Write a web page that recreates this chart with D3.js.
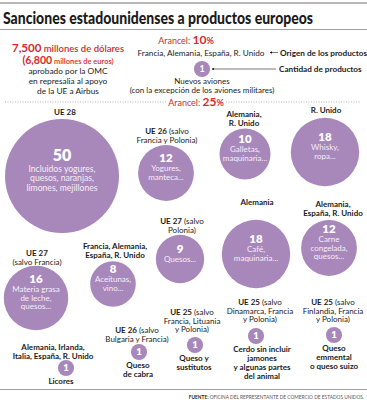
<!DOCTYPE html>
<html>
<head>
<meta charset="utf-8">
<script src="https://cdn.jsdelivr.net/npm/d3@7"></script>
<style>
  body { margin: 0; background: #fff; }
  text { font-family: Lato, "Open Sans", sans-serif; }
</style>
</head>
<body>
<div id="chart"></div>
<script>
"use strict";

// origin of the products (first "UE nn" part is bold, country lists are all bold)
var origins = [
  ["UE 28"],
  ["UE 26 (salvo", "Francia y Polonia)"],
  ["Alemania,", "R. Unido"],
  ["R. Unido"],
  ["UE 27", "(salvo Francia)"],
  ["Francia, Alemania,", "España, R. Unido"],
  ["UE 27 (salvo", "Polonia)"],
  ["Alemania"],
  ["Alemania,", "España, R. Unido"],
  ["Alemania, Irlanda,", "Italia, España, R. Unido"],
  ["UE 26 (salvo", "Bulgaria y Francia)"],
  ["UE 25 (salvo", "Francia, Lituania", "y Polonia)"],
  ["UE 25 (salvo", "Dinamarca, Francia", "y Polonia)"],
  ["UE 25 (salvo", "Finlandia, Francia", "y Polonia)"]
];

// number of products
var counts = [50, 12, 10, 18, 16, 8, 9, 18, 12, 1, 1, 1, 1, 1];

var products = [
  ["Incluidos yogures,", "quesos, naranjas,", "limones, mejillones"],
  ["Yogures,", "manteca..."],
  ["Galletas,", "maquinaria..."],
  ["Whisky,", "ropa..."],
  ["Materia grasa", "de leche,", "quesos..."],
  ["Aceitunas,", "vino..."],
  ["Quesos..."],
  ["Café,", "maquinaria..."],
  ["Carne", "congelada,", "quesos..."],
  ["Licores"],
  ["Queso", "de cabra"],
  ["Queso y", "sustitutos"],
  ["Cerdo sin incluir", "jamones", "y algunas partes", "del animal"],
  ["Queso", "emmental", "o queso suizo"]
];

var legendOrigin = "Francia, Alemania, España, R. Unido";
var legendCount = 1;
var legendProduct = ["Nuevos aviones", "(con la excepción de los aviones militares)"];

// hand placed layout: label pos, circle centre, text x for the small ones
var layout = [
  {lx: 65,  ly: 112, cx: 62,  cy: 176},
  {lx: 167, ly: 131, cx: 166, cy: 173},
  {lx: 244, ly: 114, cx: 245, cy: 154},
  {lx: 326, ly: 110, cx: 325, cy: 152},
  {lx: 37,  ly: 253, cx: 36,  cy: 298},
  {lx: 115, ly: 246, cx: 113, cy: 284},
  {lx: 182, ly: 221, cx: 180, cy: 259},
  {lx: 257, ly: 202, cx: 256, cy: 254},
  {lx: 333, ly: 204, cx: 329, cy: 248},
  {lx: 53,  ly: 347, cx: 66,  cy: 368, tx: 61},
  {lx: 137, ly: 330, cx: 139, cy: 352, tx: 138},
  {lx: 192, ly: 312, cx: 195, cy: 345, tx: 194},
  {lx: 260, ly: 302, cx: 256, cy: 336, tx: 262},
  {lx: 333, ly: 302, cx: 334, cy: 335, tx: 334}
];

var W = 367, H = 400;
var red = "#d52a2e", purple = "#a887bb", ink = "#1b1b1b", rule = "#a0a0a0";

var svg = d3.select("#chart").append("svg")
  .attr("width", W)
  .attr("height", H);

var r = d3.scaleSqrt().domain([0, 50]).range([0, 57]);

svg.append("defs").append("marker")
  .attr("id", "arr")
  .attr("viewBox", "0 0 6 6")
  .attr("refX", 5).attr("refY", 3)
  .attr("markerWidth", 4).attr("markerHeight", 4)
  .attr("orient", "auto")
  .append("path")
    .attr("d", "M0,0 L6,3 L0,6 z")
    .attr("fill", ink);

// header
svg.append("line").attr("x1", 0).attr("x2", W).attr("y1", 3).attr("y2", 3)
  .attr("stroke", rule).attr("stroke-width", 1.5);
svg.append("text")
  .attr("x", 3).attr("y", 24)
  .attr("font-size", 16).attr("font-weight", 900).attr("fill", ink)
  .attr("textLength", 310).attr("lengthAdjust", "spacingAndGlyphs")
  .text("Sanciones estadounidenses a productos europeos");
svg.append("line").attr("x1", 0).attr("x2", W).attr("y1", 29.5).attr("y2", 29.5)
  .attr("stroke", rule).attr("stroke-width", 1);

// left note
var t1 = svg.append("text").attr("x", 68).attr("y", 51.5).attr("text-anchor", "middle").attr("fill", red);
t1.append("tspan").attr("font-size", 11.5).attr("font-weight", 700).text("7,500");
t1.append("tspan").attr("font-size", 9.5).attr("font-weight", 600).text(" millones de dólares");
var t2 = svg.append("text").attr("x", 68).attr("y", 63.5).attr("text-anchor", "middle").attr("fill", red);
t2.append("tspan").attr("font-size", 10.5).attr("font-weight", 700).text("(6,800");
t2.append("tspan").attr("font-size", 7.5).attr("font-weight", 600).text(" millones de euros)");
["aprobado por la OMC", "en represalia al apoyo", "de la UE a Airbus"].forEach(function(s, i){
  svg.append("text")
    .attr("x", 68).attr("y", 73.5 + i * 10)
    .attr("text-anchor", "middle").attr("font-size", 8.3).attr("fill", ink)
    .text(s);
});

// tariff heading helper
function arancel(x, y, pct){
  var t = svg.append("text").attr("x", x).attr("y", y).attr("text-anchor", "middle").attr("fill", red);
  t.append("tspan").attr("font-size", 9).text("Arancel: ");
  t.append("tspan").attr("font-size", 12).attr("font-weight", 700).text(pct);
  t.append("tspan").attr("font-size", 9).attr("font-weight", 700).text("%");
  return t;
}
arancel(186, 44, "10");

// legend
svg.append("text").attr("x", 201).attr("y", 55.5).attr("text-anchor", "middle")
  .attr("font-size", 8.2).attr("fill", ink).text(legendOrigin);
svg.append("line").attr("x1", 278).attr("x2", 270).attr("y1", 52.5).attr("y2", 52.5)
  .attr("stroke", ink).attr("stroke-width", 0.6).attr("marker-end", "url(#arr)");
svg.append("text").attr("x", 280).attr("y", 55.5)
  .attr("font-size", 8.2).attr("font-weight", 700).attr("fill", ink).text("Origen de los productos");

svg.append("circle").attr("cx", 202).attr("cy", 69).attr("r", r(legendCount)).attr("fill", purple);
svg.append("text").attr("x", 202).attr("y", 69).attr("dy", "0.35em").attr("text-anchor", "middle")
  .attr("font-size", 9).attr("font-weight", 700).attr("fill", "#fff").text(legendCount);
svg.append("line").attr("x1", 276).attr("x2", 212).attr("y1", 69).attr("y2", 69)
  .attr("stroke", ink).attr("stroke-width", 0.6).attr("marker-end", "url(#arr)");
svg.append("text").attr("x", 279).attr("y", 72)
  .attr("font-size", 8.2).attr("font-weight", 700).attr("fill", ink).text("Cantidad de productos");
legendProduct.forEach(function(s, i){
  svg.append("text").attr("x", 202).attr("y", 84 + i * 8.8).attr("text-anchor", "middle")
    .attr("font-size", 8).attr("fill", ink).text(s);
});

// dotted separator with 25%
svg.append("line").attr("x1", 5).attr("x2", 166).attr("y1", 102).attr("y2", 102)
  .attr("stroke", rule).attr("stroke-width", 0.8).attr("stroke-dasharray", "1,1.5");
svg.append("line").attr("x1", 226).attr("x2", 360).attr("y1", 102).attr("y2", 102)
  .attr("stroke", rule).attr("stroke-width", 0.8).attr("stroke-dasharray", "1,1.5");
arancel(196, 106, "25");

// groups
var groups = svg.append("g").selectAll("g")
  .data(counts.map(function(c, i){ return {n: c, origin: origins[i], prod: products[i], pos: layout[i]}; }))
  .enter().append("g");

groups.each(function(d){
  var g = d3.select(this);
  var p = d.pos;
  var rad = r(d.n);
  var allBold = !/^UE/.test(d.origin[0]);

  d.origin.forEach(function(line, j){
    var t = g.append("text")
      .attr("x", p.lx).attr("y", p.ly + j * 8.8).attr("dy", "0.35em")
      .attr("text-anchor", "middle").attr("font-size", 8).attr("fill", ink);
    var m = line.match(/^(UE \d+)(.*)$/);
    if(allBold){
      t.attr("font-weight", 700).text(line);
    } else if(m){
      t.append("tspan").attr("font-weight", 700).text(m[1]);
      t.append("tspan").text(m[2]);
    } else {
      t.text(line);
    }
  });

  g.append("circle")
    .attr("cx", p.cx).attr("cy", p.cy).attr("r", rad)
    .attr("fill", purple);

  if(d.n > 1){
    var big = d.n >= 50;
    var ns = big ? 16 : 11.5;
    var lh = big ? 9.5 : 8.8;
    var ds = big ? 8.6 : 8;
    var top = p.cy - 6 - (ns + d.prod.length * lh) / 2;
    g.append("text")
      .attr("x", p.cx).attr("y", top + ns / 2).attr("dy", "0.35em")
      .attr("text-anchor", "middle").attr("font-size", ns).attr("font-weight", 800)
      .attr("fill", "#fff").text(d.n);
    d.prod.forEach(function(s, k){
      g.append("text")
        .attr("x", p.cx).attr("y", top + ns + lh * (k + 0.5)).attr("dy", "0.35em")
        .attr("text-anchor", "middle").attr("font-size", ds)
        .attr("fill", "#f5eef8").text(s);
    });
  } else {
    g.append("text")
      .attr("x", p.cx).attr("y", p.cy).attr("dy", "0.35em")
      .attr("text-anchor", "middle").attr("font-size", 9.5).attr("font-weight", 800)
      .attr("fill", "#fff").text(d.n);
    d.prod.forEach(function(s, k){
      g.append("text")
        .attr("x", p.tx).attr("y", p.cy + rad + 5.5 + k * 8.8).attr("dy", "0.35em")
        .attr("text-anchor", "middle").attr("font-size", 8).attr("font-weight", 700)
        .attr("fill", ink).text(s);
    });
  }
});

// footer
svg.append("line").attr("x1", 0).attr("x2", W).attr("y1", 389.5).attr("y2", 389.5)
  .attr("stroke", rule).attr("stroke-width", 1);
var src = svg.append("text").attr("x", 364).attr("y", 398.5).attr("text-anchor", "end")
  .attr("font-size", 4.8).attr("fill", "#555");
src.append("tspan").attr("font-weight", 700).attr("fill", ink).text("FUENTE:");
src.append("tspan").text(" OFICINA DEL REPRESENTANTE DE COMERCIO DE ESTADOS UNIDOS.");
</script>
</body>
</html>
